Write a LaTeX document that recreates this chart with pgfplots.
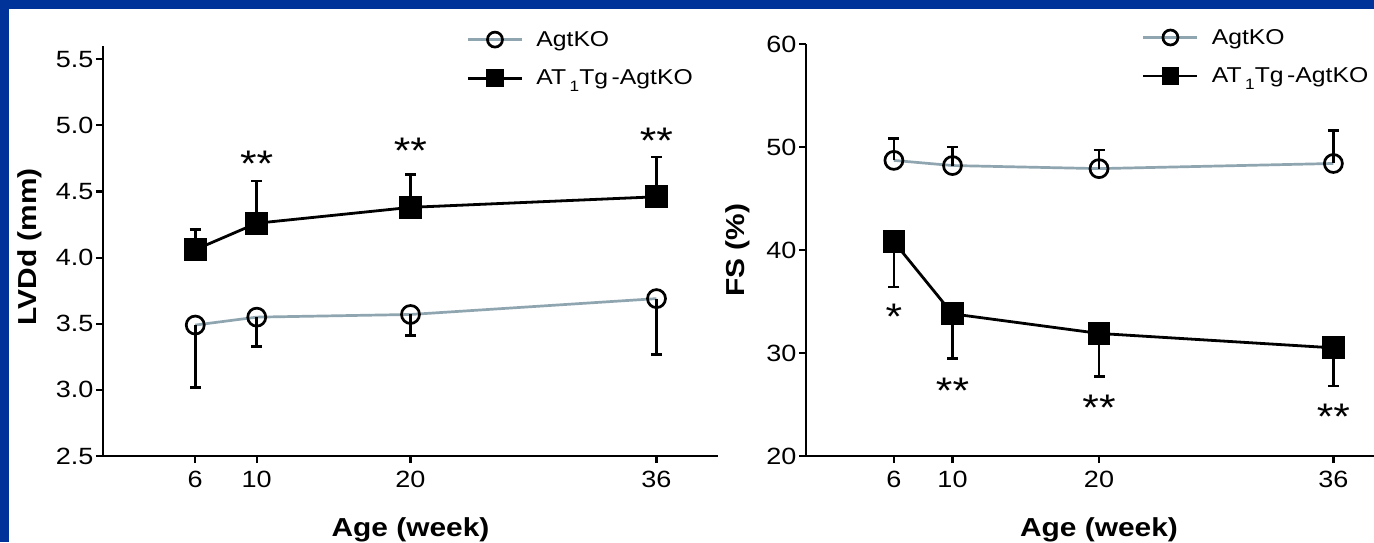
\documentclass[border=0pt]{standalone}
\usepackage{fontspec}
\setmainfont{Liberation Sans}[FakeStretch=1.15]
\usepackage{pgfplots}
\pgfplotsset{compat=1.18}
\definecolor{bg}{RGB}{0,51,153}
\definecolor{agt}{RGB}{143,165,176}

\pgfplotstableread{
x y e
6 3.49 0.47
10 3.55 0.22
20 3.57 0.16
36 3.69 0.42
}\lvko
\pgfplotstableread{
x y e
6 4.06 0.15
10 4.26 0.32
20 4.38 0.25
36 4.46 0.30
}\lvtg
\pgfplotstableread{
x y e
6 48.7 2.1
10 48.2 1.8
20 47.9 1.8
36 48.4 3.2
}\fsko
\pgfplotstableread{
x y e
6 40.8 4.4
10 33.8 4.3
20 31.9 4.2
36 30.5 3.7
}\fstg

\pgfplotsset{
 myaxis/.style={
  scale only axis, axis lines=left, axis line style={line width=2.7pt,-},
  xmin=0, xmax=40, xtick={6,10,20,36},
  tick style={line width=2.2pt,black}, major tick length=7pt, tick align=outside,
  tick label style={font=\fontsize{23.5}{26}\selectfont},
  xticklabel style={yshift=-5pt},
  yticklabel style={xshift=1pt},
  /pgf/number format/assume math mode=true,
  label style={font=\bfseries\fontsize{26}{30}\selectfont},
  xlabel style={at={(axis description cs:0.5,0)}, anchor=base, yshift=-80pt},
  legend style={draw=none, fill=none, font=\fontsize{21.5}{24}\selectfont, anchor=north west, row sep=18pt,
    nodes={inner xsep=13pt}},
  legend cell align=left,
  legend image code/.code={\draw[mark repeat=2,mark phase=2,mark size=7.5pt] plot coordinates {(0pt,0pt) (27pt,0pt) (54pt,0pt)};},
  clip=false,
 },
 ko/.style={color=agt, line width=2.7pt, mark=o, mark size=9pt, mark options={draw=black, fill=white, line width=2.7pt}},
 tg/.style={color=black, line width=2.8pt, mark=square*, mark size=10pt, mark options={draw=black, fill=black}},
 eb/.style={error bars/.cd, y dir=#1, y explicit, error bar style={black, line width=2.8pt}, error mark options={rotate=90, mark size=5.5pt, line width=2.8pt, black}},
}
\tikzset{sig/.style={font=\fontsize{37}{40}\selectfont, anchor=base}}

\begin{document}
\begin{tikzpicture}[x=1pt,y=1pt]
\path[use as bounding box] (0,0) rectangle (1374,542);
\clip (0,0) rectangle (1374,542);
\fill[bg] (0,0) rectangle (1374,542);
\fill[white] (9,0) rectangle (1374,533);

\begin{axis}[myaxis, at={(103pt,86pt)}, anchor=south west, width=615pt, height=410pt,
  ymin=2.5, ymax=5.6, ytick={2.5,3,...,5.5},
  yticklabel style={/pgf/number format/.cd, fixed, fixed zerofill, precision=1},
  xlabel={Age (week)}, ylabel={LVDd (mm)},
  ylabel style={at={(axis description cs:-0.119,0.51)}, anchor=center},
  legend style={at={(axis description cs:0.586,1.046)}},
  ]
\addplot[ko, eb=minus] table[x=x, y=y, y error=e] {\lvko};
\addlegendentry{AgtKO}
\addplot[tg, eb=plus] table[x=x, y=y, y error=e] {\lvtg};
\addlegendentry{AT\,\raisebox{-6.5pt}{\fontsize{15}{18}\selectfont 1}Tg\,-AgtKO}
\node[sig] at (axis cs:10,4.615) {**};
\node[sig] at (axis cs:20,4.71) {**};
\node[sig] at (axis cs:36,4.79) {**};
\end{axis}

\begin{axis}[myaxis, at={(806pt,86pt)}, anchor=south west, width=586pt, height=412pt,
  ymin=20, ymax=60, ytick={20,30,...,60},
  xlabel={Age (week)}, ylabel={FS (\%)},
  ylabel style={at={(axis description cs:-0.116,0.5)}, anchor=center},
  legend style={at={(axis description cs:0.568,1.046)}},
  ]
\addplot[ko, eb=plus] table[x=x, y=y, y error=e] {\fsko};
\addlegendentry{AgtKO}
\addplot[tg, eb=minus] table[x=x, y=y, y error=e] {\fstg};
\addlegendentry{AT\,\raisebox{-6.5pt}{\fontsize{15}{18}\selectfont 1}Tg\,-AgtKO}
\node[sig] at (axis cs:6,32.3) {*};
\node[sig] at (axis cs:10,25.05) {**};
\node[sig] at (axis cs:20,23.4) {**};
\node[sig] at (axis cs:36,22.55) {**};
\end{axis}
\end{tikzpicture}
\end{document}
